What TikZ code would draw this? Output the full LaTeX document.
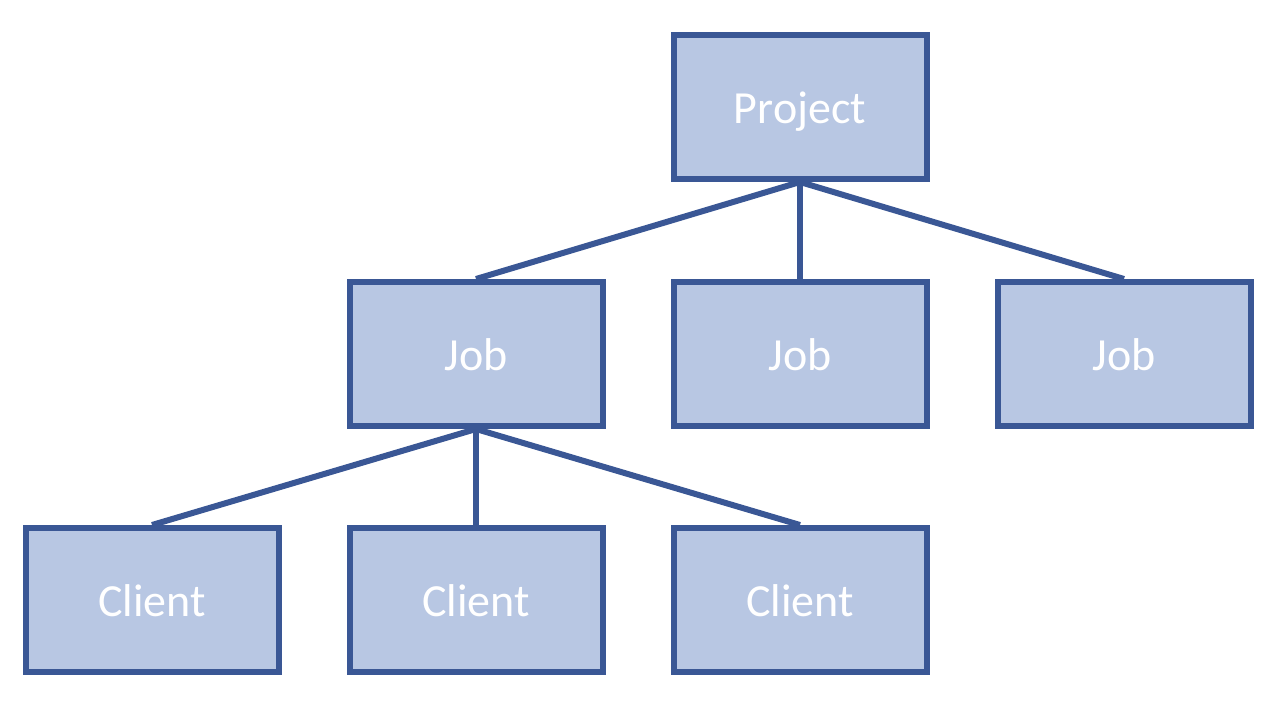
\documentclass[tikz,border=0pt]{standalone}
\usepackage{fontspec}
\setmainfont{Carlito}
\definecolor{boxfill}{HTML}{B8C7E3}
\definecolor{boxline}{HTML}{3A5795}
\begin{document}
\begin{tikzpicture}[x=1pt,y=-1pt,
  box/.style={draw=boxline, fill=boxfill, line width=6pt, minimum width=253pt, minimum height=144pt,
    inner sep=0pt, text height=36pt, text depth=4pt, text=white, font=\fontsize{46}{55}\selectfont},
  link/.style={draw=boxline, line width=6pt}]
\useasboundingbox (0,0) rectangle (1286,704);
\node[box] (proj) at (800,107) {Project};
\node[box] (job1) at (476,354) {Job};
\node[box] (job2) at (800,354) {Job};
\node[box] (job3) at (1124,354) {Job};
\node[box] (cl1) at (152,600) {Client};
\node[box] (cl2) at (476,600) {Client};
\node[box] (cl3) at (800,600) {Client};
\draw[link] (proj.south) -- (job1.north);
\draw[link] (proj.south) -- (job2.north);
\draw[link] (proj.south) -- (job3.north);
\draw[link] (job1.south) -- (cl1.north);
\draw[link] (job1.south) -- (cl2.north);
\draw[link] (job1.south) -- (cl3.north);
\end{tikzpicture}
\end{document}
